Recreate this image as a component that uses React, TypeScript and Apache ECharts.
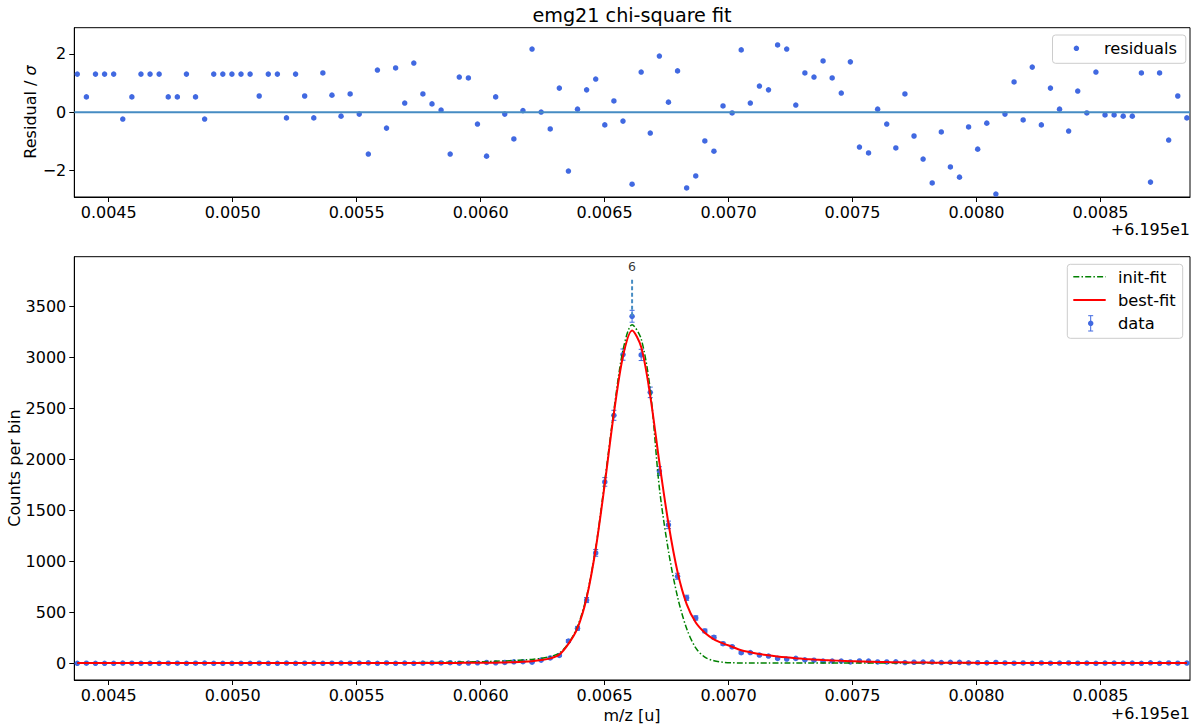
import React, { useEffect, useRef } from "react";
import * as echarts from "echarts";

// x values are offsets from 61.95 u (shown as "+6.195e1")
const BIN_START = 0.0043734;
const BIN_WIDTH = 0.00003668;
const X_MIN = 0.0043613;
const X_MAX = 0.008861;
const X_TICKS = [0.0045, 0.005, 0.0055, 0.006, 0.0065, 0.007, 0.0075, 0.008, 0.0085];
const RES_TICKS = [-2, 0, 2];
const RES_MIN = -2.9;
const RES_MAX = 2.9;
const COUNT_TICKS = [0, 500, 1000, 1500, 2000, 2500, 3000, 3500];
const COUNT_MIN = -164;
const COUNT_MAX = 3986;

const counts = [
  0, 1, 0, 0, 0, 2, 1, 0, 0, 0, 1, 1, 0, 1, 2, 0, 0, 0, 0, 0, 1, 0, 0, 2, 0, 1, 2, 0, 1, 2, 1,
  2, 4, 0, 3, 0, 2, 0, 2, 3, 3, 6, 1, 2, 5, 8,
  5, 8, 14, 15, 11, 31, 52, 77, 218, 343, 620, 1082, 1778, 2431, 3026, 3402, 3023, 2656, 1884, 1357, 853, 642, 444, 317, 255, 192, 162,
  104, 105, 81, 71, 48, 41, 48, 34, 30, 22, 22, 21, 13, 23, 21, 13, 13, 14, 7, 10, 11, 12,
  7, 9, 9, 5, 6, 4, 8, 3, 1, 3, 0, 3, 1, 2, 3, 1, 2, 0, 2, 2, 2, 2, 0, 5, 0, 3, 1, 2,
];

const bestFit = [
  1.7, 1.7, 1.7, 1.7, 1.7, 1.7, 1.7, 1.7, 1.7, 1.7, 1.7, 1.7, 1.7, 1.7, 1.7, 1.7, 1.7, 1.7, 1.7, 1.7, 1.7,
  1.8, 1.8, 1.8, 1.8, 1.8, 1.8, 1.8, 1.9, 1.9,
  2.0, 2.0, 2.1, 2.1, 2.2, 2.3, 2.5, 2.7, 2.9, 3.1, 3.4, 3.6, 3.8, 4.1, 4.5, 5.0,
  6, 8, 11, 15, 21, 31, 48, 85, 190, 345, 640, 1120, 1760, 2450, 3010, 3262, 3100, 2620, 1970, 1370, 895, 580, 400, 300, 235, 195, 162,
  128, 108, 90, 78, 67, 58, 50, 43, 37, 32, 28, 24, 21, 18, 15.5, 13.5, 12, 10.5, 9.2, 8, 7, 6.2,
  5.6, 5.1, 4.6, 4.2, 3.8, 3.5, 3.2, 3.0, 2.8, 2.6, 2.5, 2.4, 2.3, 2.2, 2.1, 2.0, 2.0, 1.9,
  1.8, 1.8, 1.8, 1.8, 1.8, 1.8, 1.8, 1.8, 1.8, 1.8,
];

const initFit = [
  1.7, 1.7, 1.7, 1.7, 1.7, 1.7, 1.7, 1.7, 1.7, 1.7, 1.7, 1.7, 1.7, 1.7, 1.7, 1.7, 1.7, 1.7, 1.7, 1.7, 1.7, 1.7, 1.7, 1.7, 1.7, 1.7,
  1.8, 1.9, 2.0, 2.1, 2.3,
  2.5, 3, 3.5, 4, 4.5, 5, 6, 7, 8, 9, 10, 12, 13, 15, 17, 20, 23, 27, 32, 38, 48, 65, 100,
  195, 360, 655, 1130, 1790, 2480, 3070, 3320, 3180, 2680, 1720, 1100, 650, 340, 150, 60, 25, 10, 5, 3,
  2.2, 2.0, 1.9, 1.8, 1.8, 1.8, 1.8, 1.8, 1.8, 1.8, 1.8, 1.8, 1.8, 1.8, 1.8, 1.8, 1.8, 1.8, 1.8, 1.8,
  1.8, 1.8, 1.8, 1.8, 1.8, 1.8, 1.8, 1.8, 1.8, 1.8, 1.8, 1.8, 1.8, 1.8, 1.8, 1.8, 1.8, 1.8, 1.8, 1.8,
  1.8, 1.8, 1.8, 1.8, 1.8, 1.8, 1.8, 1.8, 1.8,
];

const residuals = [
  1.31, 0.53, 1.31, 1.31, 1.31, -0.23, 0.53, 1.31, 1.31, 1.31, 0.53, 0.53, 1.31, 0.53, -0.23, 1.31, 1.31, 1.31, 1.31, 1.31,
  0.56, 1.31, 1.31, -0.19, 1.31, 0.56, -0.19, 1.35, 0.59, -0.13, 0.63, -0.06, -1.43, 1.45, -0.54, 1.52, 0.32, 1.69, 0.63, 0.29,
  0.08, -1.43, 1.21, 1.18, -0.4, -1.5, 0.53, -0.06, -0.91, 0.06, 2.17, 0.01, -0.57, 0.83, -2.01, 0.11, 0.77, 1.14,
  -0.43, 0.39, -0.3, -2.46, 1.38, -0.71, 1.93, 0.35, 1.42, -2.59, -2.18, -0.98, -1.33, 0.22, -0.02, 2.14, 0.32, 0.9, 0.77, 2.31,
  2.17, 0.25, 1.35, 1.21, 1.76, 1.18, 0.66, 1.73, -1.19, -1.39, 0.11, -0.4, -1.22, 0.63, -0.81, -1.6, -2.42, -0.67, -1.87, -2.22,
  -0.5, -1.26, -0.37, -2.8, -0.06, 1.04, -0.26, 1.55, -0.43, 0.83, 0.11, -0.64, 0.73, -0.02, 1.38, -0.09, -0.09, -0.13, -0.13,
  1.35, -2.39, 1.35, -0.95, 0.56, -0.19,
];

const PEAK_INDEX = 61;
const PEAK_LABEL = "6";
const PEAK_MARKER_TOP = 3780;

const FONT = "DejaVu Sans";
const DOT = "#4169e1";
const C0 = "#468cc3";
const FS = 16;
const LEG_FS = 16.3;

export default function App() {
  const ref = useRef<HTMLDivElement>(null);

  useEffect(() => {
    if (!ref.current) return;
    const chart = echarts.init(ref.current, null, { renderer: "svg" });
    const xs = counts.map((_, i) => BIN_START + i * BIN_WIDTH);
    const peakX = xs[PEAK_INDEX];

    const axisX = (gridIndex: number) => ({
      type: "value",
      gridIndex,
      min: X_MIN,
      max: X_MAX,
      axisLine: { show: true, onZero: false, lineStyle: { color: "#000", width: 1 } },
      axisTick: { show: true, length: 5, customValues: X_TICKS, lineStyle: { color: "#000", width: 1 } },
      axisLabel: {
        show: true,
        customValues: X_TICKS,
        formatter: (v: number) => v.toFixed(4),
        fontSize: FS,
        fontFamily: FONT,
        color: "#000",
        margin: 7,
      },
      splitLine: { show: false },
    });

    const axisY = (gridIndex: number, min: number, max: number, ticks: number[]) => ({
      type: "value",
      gridIndex,
      min,
      max,
      axisLine: { show: true, onZero: false, lineStyle: { color: "#000", width: 1 } },
      axisTick: { show: true, length: 5, customValues: ticks, lineStyle: { color: "#000", width: 1 } },
      axisLabel: {
        show: true,
        customValues: ticks,
        formatter: (v: number) => (v < 0 ? "\u2212" + Math.abs(v) : String(v)),
        fontSize: FS,
        fontFamily: FONT,
        color: "#000",
        margin: 8,
      },
      splitLine: { show: false },
    });

    const option: any = {
      animation: false,
      backgroundColor: "#fff",
      grid: [
        { left: 74.3, top: 27.7, width: 1115.7, height: 169.3, show: true, borderColor: "#000", borderWidth: 1, backgroundColor: "transparent" },
        { left: 74.3, top: 256.7, width: 1115.7, height: 423.3, show: true, borderColor: "#000", borderWidth: 1, backgroundColor: "transparent" },
      ],
      xAxis: [axisX(0), axisX(1)],
      yAxis: [axisY(0, RES_MIN, RES_MAX, RES_TICKS), axisY(1, COUNT_MIN, COUNT_MAX, COUNT_TICKS)],
      series: [
        {
          type: "line",
          xAxisIndex: 0,
          yAxisIndex: 0,
          data: [[X_MIN, 0], [X_MAX, 0]],
          symbol: "none",
          lineStyle: { color: C0, width: 2 },
          silent: true,
        },
        {
          type: "scatter",
          xAxisIndex: 0,
          yAxisIndex: 0,
          data: residuals.map((r, i) => [xs[i], r]),
          symbolSize: 5.5,
          itemStyle: { color: DOT, opacity: 1 },
        },
        {
          type: "line",
          xAxisIndex: 1,
          yAxisIndex: 1,
          data: [[peakX, counts[PEAK_INDEX]], [peakX, PEAK_MARKER_TOP]],
          symbol: "none",
          lineStyle: { color: C0, width: 2, type: [4, 2.5] },
          silent: true,
        },
        {
          type: "scatter",
          xAxisIndex: 1,
          yAxisIndex: 1,
          data: [[peakX, PEAK_MARKER_TOP]],
          symbolSize: 0,
          label: {
            show: true,
            position: "top",
            distance: 5,
            formatter: PEAK_LABEL,
            fontSize: 12.5,
            fontFamily: FONT,
            color: "#000",
          },
          silent: true,
        },
        {
          type: "line",
          xAxisIndex: 1,
          yAxisIndex: 1,
          data: initFit.map((v, i) => [xs[i], v]),
          symbol: "none",
          smooth: 0.3,
          lineStyle: { color: "#008000", width: 1.5, type: [6, 2.2, 1.5, 2.2] },
        },
        {
          type: "line",
          xAxisIndex: 1,
          yAxisIndex: 1,
          data: bestFit.map((v, i) => [xs[i], v]),
          symbol: "none",
          smooth: 0.3,
          lineStyle: { color: "#ff0000", width: 2 },
        },
        {
          type: "custom",
          xAxisIndex: 1,
          yAxisIndex: 1,
          data: counts.map((c, i) => [xs[i], c, Math.sqrt(c)]),
          encode: { x: 0, y: 1 },
          renderItem: (params: any, api: any) => {
            const x = api.value(0);
            const y = api.value(1);
            const e = api.value(2);
            if (!(e > 0)) return { type: "group", children: [] };
            const p1 = api.coord([x, y + e]);
            const p2 = api.coord([x, y - e]);
            const st = { stroke: DOT, lineWidth: 1 };
            return {
              type: "group",
              children: [
                { type: "line", shape: { x1: p1[0], y1: p1[1], x2: p2[0], y2: p2[1] }, style: st },
                { type: "line", shape: { x1: p1[0] - 2.5, y1: p1[1], x2: p1[0] + 2.5, y2: p1[1] }, style: st },
                { type: "line", shape: { x1: p2[0] - 2.5, y1: p2[1], x2: p2[0] + 2.5, y2: p2[1] }, style: st },
              ],
            };
          },
        },
        {
          type: "scatter",
          xAxisIndex: 1,
          yAxisIndex: 1,
          data: counts.map((c, i) => [xs[i], c]),
          symbolSize: 5.5,
          itemStyle: { color: DOT, opacity: 1 },
        },
      ],
      graphic: [
        {
          type: "text",
          x: 632,
          y: 15,
          style: { text: "emg21 chi-square fit", font: `19.2px '${FONT}'`, fill: "#000", align: "center", verticalAlign: "middle" },
        },
        {
          type: "text",
          x: 30,
          y: 112,
          rotation: Math.PI / 2,
          style: {
            text: "{a|Residual / }{b|σ}",
            align: "center",
            verticalAlign: "middle",
            rich: {
              a: { fontSize: FS, fontFamily: FONT, fill: "#000" },
              b: { fontSize: FS, fontFamily: FONT, fontStyle: "italic", fill: "#000" },
            },
          },
        },
        {
          type: "text",
          x: 14,
          y: 468,
          rotation: Math.PI / 2,
          style: { text: "Counts per bin", font: `${FS}px '${FONT}'`, fill: "#000", align: "center", verticalAlign: "middle" },
        },
        {
          type: "text",
          x: 632,
          y: 715,
          style: { text: "m/z [u]", font: `${FS}px '${FONT}'`, fill: "#000", align: "center", verticalAlign: "middle" },
        },
        {
          type: "text",
          x: 1190,
          y: 229,
          style: { text: "+6.195e1", font: `${FS}px '${FONT}'`, fill: "#000", align: "right", verticalAlign: "middle" },
        },
        {
          type: "text",
          x: 1190,
          y: 713,
          style: { text: "+6.195e1", font: `${FS}px '${FONT}'`, fill: "#000", align: "right", verticalAlign: "middle" },
        },
        // top legend
        {
          type: "rect",
          shape: { x: 1052.5, y: 35, width: 133.3, height: 28.3, r: 3 },
          style: { fill: "rgba(255,255,255,0.8)", stroke: "#cccccc", lineWidth: 1 },
          z: 10,
        },
        { type: "circle", shape: { cx: 1076.4, cy: 48.3, r: 2.75 }, style: { fill: DOT }, z: 11 },
        {
          type: "text",
          x: 1104,
          y: 48.8,
          style: { text: "residuals", font: `${LEG_FS}px '${FONT}'`, fill: "#000", align: "left", verticalAlign: "middle" },
          z: 11,
        },
        // bottom legend
        {
          type: "rect",
          shape: { x: 1067.3, y: 264.3, width: 115.4, height: 74, r: 3 },
          style: { fill: "rgba(255,255,255,0.8)", stroke: "#cccccc", lineWidth: 1 },
          z: 10,
        },
        {
          type: "line",
          shape: { x1: 1073.3, y1: 276.7, x2: 1105.7, y2: 276.7 },
          style: { stroke: "#008000", lineWidth: 1.5, lineDash: [6, 2.2, 1.5, 2.2] },
          z: 11,
        },
        {
          type: "text",
          x: 1118,
          y: 277.2,
          style: { text: "init-fit", font: `${LEG_FS}px '${FONT}'`, fill: "#000", align: "left", verticalAlign: "middle" },
          z: 11,
        },
        {
          type: "line",
          shape: { x1: 1073.3, y1: 300, x2: 1105.7, y2: 300 },
          style: { stroke: "#ff0000", lineWidth: 2 },
          z: 11,
        },
        {
          type: "text",
          x: 1118,
          y: 300.5,
          style: { text: "best-fit", font: `${LEG_FS}px '${FONT}'`, fill: "#000", align: "left", verticalAlign: "middle" },
          z: 11,
        },
        { type: "line", shape: { x1: 1090.7, y1: 315.7, x2: 1090.7, y2: 331 }, style: { stroke: DOT, lineWidth: 1 }, z: 11 },
        { type: "line", shape: { x1: 1088.2, y1: 315.7, x2: 1093.2, y2: 315.7 }, style: { stroke: DOT, lineWidth: 1 }, z: 11 },
        { type: "line", shape: { x1: 1088.2, y1: 331, x2: 1093.2, y2: 331 }, style: { stroke: DOT, lineWidth: 1 }, z: 11 },
        { type: "circle", shape: { cx: 1090.7, cy: 323.3, r: 2.75 }, style: { fill: DOT }, z: 11 },
        {
          type: "text",
          x: 1118,
          y: 323,
          style: { text: "data", font: `${LEG_FS}px '${FONT}'`, fill: "#000", align: "left", verticalAlign: "middle" },
          z: 11,
        },
      ],
    };

    chart.setOption(option);
    return () => chart.dispose();
  }, []);

  return (
    <div
      ref={ref}
      style={{ position: "absolute", left: 0, top: 0, width: 1197, height: 728, background: "#fff" }}
    />
  );
}
